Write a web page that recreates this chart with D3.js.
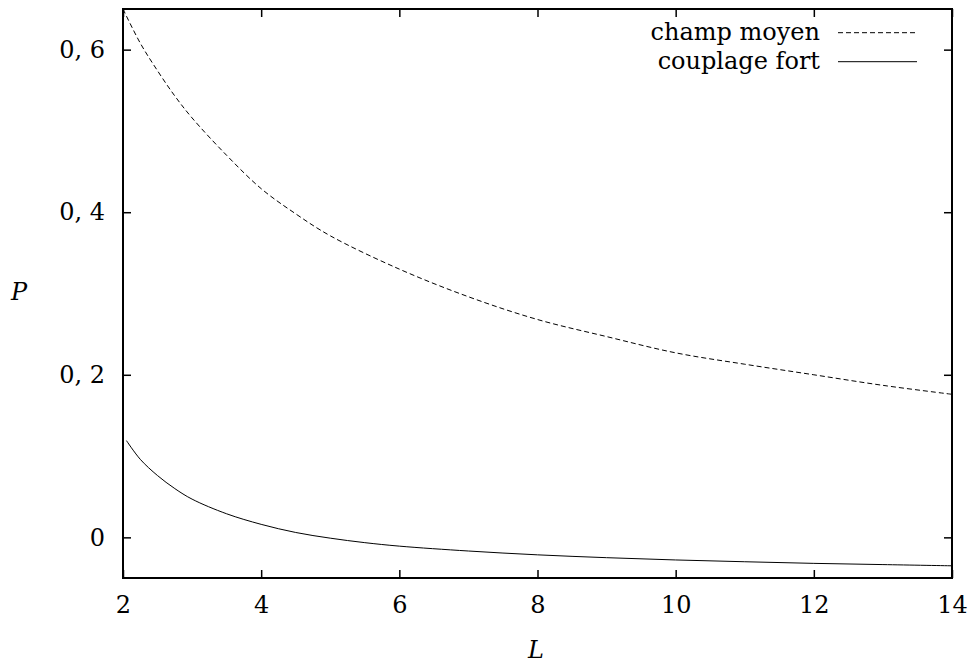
<!DOCTYPE html>
<html>
<head>
<meta charset="utf-8">
<script src="https://cdn.jsdelivr.net/npm/d3@7"></script>
<style>
  html, body { margin: 0; padding: 0; background: #fff; }
  svg text { font-family: "DejaVu Serif", serif; fill: #000; }
</style>
</head>
<body>
<svg id="chart" width="970" height="663"></svg>
<script>
// ---- Data ----
const meanFieldL = [2, 2.25, 2.5, 2.75, 3, 3.5, 4, 4.5, 5, 6, 7, 8, 9, 10, 11, 12, 13, 14];
const meanFieldP = [0.650, 0.608, 0.574, 0.543, 0.516, 0.470, 0.429, 0.398, 0.371, 0.330, 0.296, 0.268, 0.247, 0.227, 0.213, 0.200, 0.187, 0.176];

const strongL = [2.05, 2.25, 2.5, 2.75, 3, 3.5, 4, 4.5, 5, 5.5, 6, 7, 8, 9, 10, 11, 12, 13, 14];
const strongP = [0.119, 0.096, 0.076, 0.060, 0.047, 0.029, 0.016, 0.006, -0.001, -0.0065, -0.0108, -0.0168, -0.0215, -0.025, -0.0278, -0.030, -0.032, -0.0335, -0.035];

const xTicks = [2, 4, 6, 8, 10, 12, 14];
const yTicks = [0, 0.2, 0.4, 0.6];
const xDomain = [2, 14];
const yDomain = [-0.05, 0.65];
const seriesNames = ["champ moyen", "couplage fort"];
const xLabel = "L";
const yLabel = "P";

(function () {
// ---- Layout ----
const svg = d3.select("#chart");
const mLeft = 123, mRight = 952, mTop = 9, mBottom = 578;
const fontSize = 24;

const x = d3.scaleLinear().domain(xDomain).range([mLeft, mRight]);
const y = d3.scaleLinear().domain(yDomain).range([mBottom, mTop]);

const fmt = v => v === 0 ? "0" : d3.format(".1f")(v).replace(".", ", ");

// Curves
const line = d3.line().x(d => x(d[0])).y(d => y(d[1])).curve(d3.curveCatmullRom.alpha(0.5));
const mf = meanFieldL.map((l, i) => [l, meanFieldP[i]]);
const sc = strongL.map((l, i) => [l, strongP[i]]);

svg.append("path").attr("d", line(mf))
  .attr("fill", "none").attr("stroke", "#000").attr("stroke-width", 1)
  .attr("stroke-dasharray", "5,3");
svg.append("path").attr("d", line(sc))
  .attr("fill", "none").attr("stroke", "#000").attr("stroke-width", 1);

// Axes (ticks inward, mirrored)
const tickLen = 8;
const gB = svg.append("g").attr("transform", `translate(0,${mBottom})`)
  .call(d3.axisBottom(x).tickValues(xTicks).tickSizeInner(-tickLen).tickSizeOuter(0).tickPadding(20).tickFormat(d3.format("d")));
const gT = svg.append("g").attr("transform", `translate(0,${mTop})`)
  .call(d3.axisTop(x).tickValues(xTicks).tickSizeInner(-tickLen).tickSizeOuter(0).tickFormat(""));
const gL = svg.append("g").attr("transform", `translate(${mLeft},0)`)
  .call(d3.axisLeft(y).tickValues(yTicks).tickSizeInner(-tickLen).tickSizeOuter(0).tickPadding(18).tickFormat(fmt));
const gR = svg.append("g").attr("transform", `translate(${mRight},0)`)
  .call(d3.axisRight(y).tickValues(yTicks).tickSizeInner(-tickLen).tickSizeOuter(0).tickFormat(""));

[gB, gT, gL, gR].forEach(g => {
  g.select(".domain").remove();
  g.selectAll(".tick line").attr("stroke", "#000").attr("stroke-width", 1.5);
  g.selectAll(".tick text").attr("font-family", "DejaVu Serif, serif").attr("font-size", fontSize).attr("fill", "#000");
});
gB.selectAll(".tick text").attr("dy", "0.71em").attr("y", 18);

// Frame
svg.append("rect").attr("x", mLeft).attr("y", mTop)
  .attr("width", mRight - mLeft).attr("height", mBottom - mTop)
  .attr("fill", "none").attr("stroke", "#000").attr("stroke-width", 2);

// Axis labels
svg.append("text").attr("x", 536).attr("y", 658)
  .attr("text-anchor", "middle").attr("font-style", "italic").attr("font-size", fontSize).text(xLabel);
svg.append("text").attr("x", 19).attr("y", 300)
  .attr("text-anchor", "middle").attr("font-style", "italic").attr("font-size", fontSize).text(yLabel);

// Legend
const legend = svg.append("g");
const rows = [{name: seriesNames[0], dash: "5,3", ty: 40, ly: 32.7},
              {name: seriesNames[1], dash: null, ty: 68.5, ly: 61.7}];
rows.forEach(r => {
  legend.append("text").attr("x", 820).attr("y", r.ty)
    .attr("text-anchor", "end").attr("font-size", fontSize).text(r.name);
  const l = legend.append("line").attr("x1", 838).attr("x2", 917)
    .attr("y1", r.ly).attr("y2", r.ly).attr("stroke", "#000").attr("stroke-width", 1);
  if (r.dash) l.attr("stroke-dasharray", r.dash);
});
})();
</script>
</body>
</html>
